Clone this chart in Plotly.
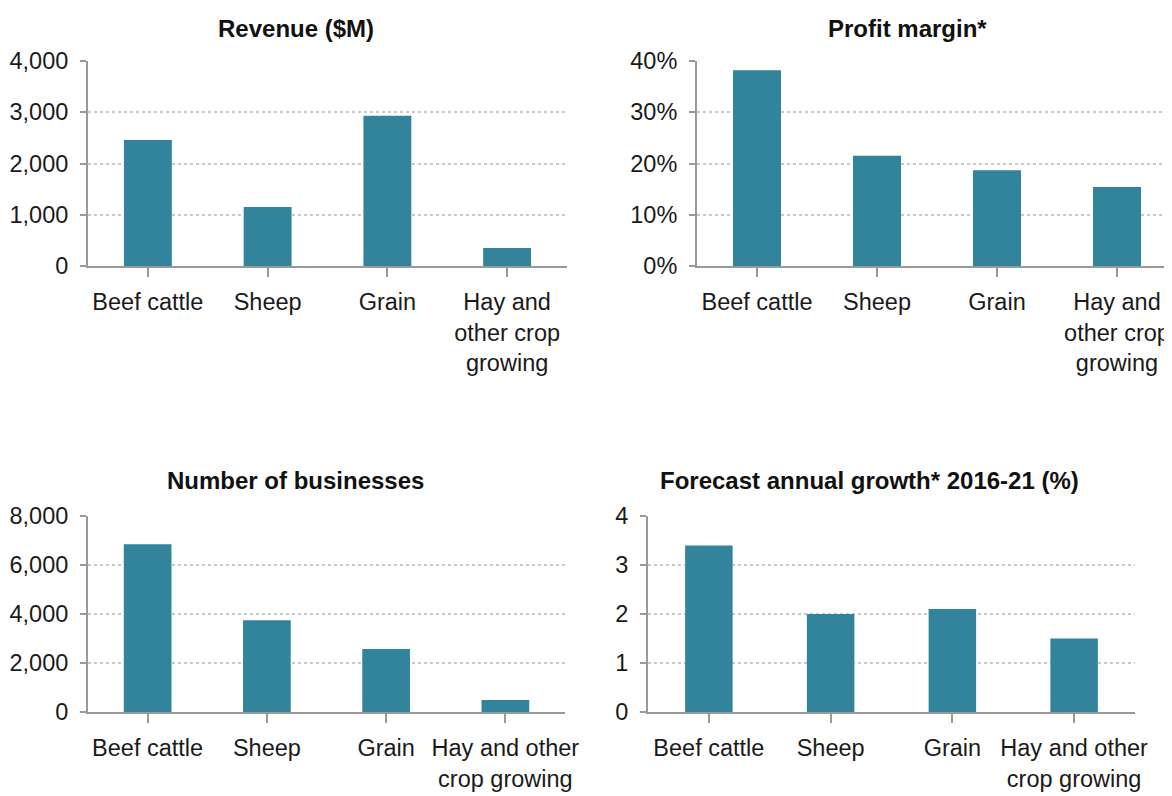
import plotly.graph_objects as go

W, H = 1172, 796
OFF = 8  # page body margin offset

categories_top = ["Beef cattle", "Sheep", "Grain", "Hay and<br>other crop<br>growing"]
categories_bottom = ["Beef cattle", "Sheep", "Grain", "Hay and other<br>crop growing"]

revenue = [2460, 1150, 2930, 350]
profit_margin = [0.382, 0.215, 0.187, 0.154]
businesses = [6850, 3750, 2570, 490]
growth = [3.4, 2.0, 2.1, 1.5]

titles = ["Revenue ($M)", "Profit margin*", "Number of businesses", "Forecast annual growth* 2016-21 (%)"]

BAR = "#31849B"
FONT = "Liberation Sans, Arial, sans-serif"
TXT = "#1a1a1a"
FS = 23.5
FST = 24

def px_x(a, b):
    return [(a - OFF) / W, min((b - OFF) / W, 1.0)]

def px_y(top, bottom):
    return [1 - (bottom - OFF) / H, 1 - (top - OFF) / H]

panels = [
    dict(x=px_x(88, 567), y=px_y(61, 266), cats=categories_top, vals=revenue,
         yr=[0, 4000], dt=1000, fmt=",", xr=[-0.5, 3.5], title_xy=(296, 28), bw=0.4),
    dict(x=px_x(697, 1180), y=px_y(61, 266), cats=categories_top, vals=profit_margin,
         yr=[0, 0.4], dt=0.1, fmt=".0%", xr=[-0.5, -0.5 + 483 / 120], title_xy=(907, 28), bw=0.4),
    dict(x=px_x(88, 565), y=px_y(516, 712), cats=categories_bottom, vals=businesses,
         yr=[0, 8000], dt=2000, fmt=",", xr=[-0.5, 3.5], title_xy=(295, 480), bw=0.4),
    dict(x=px_x(648, 1135), y=px_y(516, 712), cats=categories_bottom, vals=growth,
         yr=[0, 4], dt=1, fmt="d", xr=[-0.5, 3.5], title_xy=(869, 480), bw=0.39),
]

fig = go.Figure()
layout = dict(
    width=W, height=H,
    margin=dict(l=0, r=0, t=0, b=0, autoexpand=False),
    paper_bgcolor="white", plot_bgcolor="white",
    showlegend=False,
    font=dict(family=FONT, size=FS, color=TXT),
    annotations=[],
)

for i, p in enumerate(panels):
    n = "" if i == 0 else str(i + 1)
    fig.add_trace(go.Bar(
        x=list(range(4)), y=p["vals"], width=p["bw"],
        marker=dict(color=BAR, line=dict(width=0)),
        xaxis="x" + n, yaxis="y" + n, hoverinfo="skip",
    ))
    layout["xaxis" + n] = dict(
        domain=p["x"], anchor="y" + n, range=p["xr"],
        tickmode="array", tickvals=list(range(4)), ticktext=p["cats"],
        tickson="boundaries", ticks="outside", ticklen=9, tickwidth=2, tickcolor="#999999",
        showline=True, linecolor="#999999", linewidth=2,
        showgrid=False, zeroline=False, fixedrange=True, automargin=False,
        tickangle=0,
        tickfont=dict(family=FONT, size=FS, color=TXT),
        ticklabelstandoff=5,
    )
    layout["yaxis" + n] = dict(
        domain=p["y"], anchor="x" + n, range=p["yr"],
        tick0=0, dtick=p["dt"], tickformat=p["fmt"],
        ticks="outside", ticklen=6, tickwidth=2, tickcolor="#999999",
        showline=True, linecolor="#999999", linewidth=2,
        showgrid=True, gridcolor="#c8c8c8", griddash="dot", gridwidth=1.5,
        zeroline=False, fixedrange=True, automargin=False,
        tickfont=dict(family=FONT, size=FS, color=TXT),
        ticklabelstandoff=7,
    )
    tx, ty = p["title_xy"]
    layout["annotations"].append(dict(
        text="<b>" + titles[i] + "</b>", xref="paper", yref="paper",
        x=(tx - OFF) / W, y=1 - (ty - OFF) / H, xanchor="center", yanchor="middle",
        showarrow=False, font=dict(family=FONT, size=FST, color="#111111"),
    ))

fig.update_layout(**layout)
fig.write_html("out.html")
